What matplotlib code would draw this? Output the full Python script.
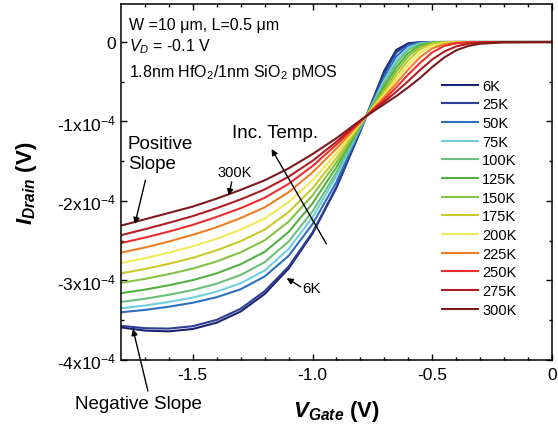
import matplotlib
matplotlib.use('Agg')
import matplotlib.pyplot as plt

plt.rcParams['font.family'] = ['Liberation Sans', 'DejaVu Sans']
plt.rcParams['mathtext.fontset'] = 'custom'
plt.rcParams['mathtext.rm'] = 'Liberation Sans'
plt.rcParams['mathtext.it'] = 'Liberation Sans:italic'
plt.rcParams['mathtext.bf'] = 'Liberation Sans:bold'
plt.rcParams['mathtext.bfit'] = 'Liberation Sans:italic:bold'

# gate voltage (V) and drain current (units of 1e-4)
v_gate = [-1.8, -1.7, -1.6, -1.5, -1.4, -1.3, -1.2, -1.1, -1.0, -0.9, -0.8, -0.75,
          -0.7, -0.65, -0.6, -0.55, -0.5, -0.45, -0.4, -0.35, -0.3, -0.2, 0.0]

temps = ['6K', '25K', '50K', '75K', '100K', '125K', '150K', '175K', '200K',
         '225K', '250K', '275K', '300K']

i_6k = [-3.59, -3.63, -3.64, -3.61, -3.53, -3.39, -3.17, -2.85, -2.41, -1.83, -1.12, -0.74,
        -0.36, -0.10, -0.015, -0.003, 0, 0, 0, 0, 0, 0, 0]
i_25k = [-3.57, -3.60, -3.605, -3.575, -3.495, -3.355, -3.135, -2.825, -2.395, -1.825, -1.11,
         -0.75, -0.39, -0.13, -0.025, -0.005, 0, 0, 0, 0, 0, 0, 0]
i_50k = [-3.40, -3.37, -3.33, -3.28, -3.21, -3.11, -2.95, -2.69, -2.29, -1.76, -1.095, -0.765,
         -0.44, -0.18, -0.045, -0.01, -0.002, 0, 0, 0, 0, 0, 0]
i_75k = [-3.35, -3.315, -3.27, -3.215, -3.14, -3.035, -2.875, -2.605, -2.205, -1.685, -1.08,
         -0.78, -0.48, -0.23, -0.07, -0.015, -0.003, 0, 0, 0, 0, 0, 0]
i_100k = [-3.27, -3.23, -3.18, -3.12, -3.04, -2.93, -2.77, -2.51, -2.13, -1.64, -1.065, -0.795,
          -0.52, -0.27, -0.10, -0.025, -0.005, 0, 0, 0, 0, 0, 0]
i_125k = [-3.16, -3.115, -3.06, -2.995, -2.91, -2.795, -2.64, -2.39, -2.03, -1.575, -1.05,
          -0.81, -0.56, -0.32, -0.14, -0.04, -0.01, -0.002, 0, 0, 0, 0, 0]
i_150k = [-3.03, -2.98, -2.92, -2.85, -2.76, -2.645, -2.495, -2.26, -1.93, -1.515, -1.04,
          -0.82, -0.60, -0.37, -0.18, -0.06, -0.015, -0.003, 0, 0, 0, 0, 0]
i_175k = [-2.91, -2.855, -2.79, -2.715, -2.62, -2.505, -2.36, -2.14, -1.84, -1.46, -1.03,
          -0.83, -0.63, -0.42, -0.23, -0.09, -0.025, -0.006, 0, 0, 0, 0, 0]
i_200k = [-2.78, -2.72, -2.65, -2.57, -2.475, -2.36, -2.22, -2.015, -1.74, -1.40, -1.02,
          -0.84, -0.66, -0.47, -0.285, -0.135, -0.045, -0.012, -0.003, 0, 0, 0, 0]
i_225k = [-2.65, -2.585, -2.51, -2.425, -2.33, -2.215, -2.08, -1.89, -1.64, -1.34, -1.01,
          -0.85, -0.69, -0.52, -0.345, -0.19, -0.08, -0.025, -0.007, -0.002, 0, 0, 0]
i_250k = [-2.53, -2.46, -2.385, -2.30, -2.20, -2.09, -1.96, -1.785, -1.56, -1.29, -1.00,
          -0.86, -0.72, -0.57, -0.41, -0.26, -0.13, -0.05, -0.016, -0.005, -0.001, 0, 0]
i_275k = [-2.43, -2.355, -2.275, -2.19, -2.09, -1.98, -1.855, -1.695, -1.495, -1.255, -0.99,
          -0.87, -0.75, -0.625, -0.49, -0.35, -0.22, -0.12, -0.055, -0.022, -0.008, -0.001, 0]
i_300k = [-2.31, -2.23, -2.15, -2.07, -1.97, -1.86, -1.74, -1.59, -1.41, -1.21, -0.985,
          -0.88, -0.78, -0.68, -0.57, -0.45, -0.315, -0.195, -0.105, -0.05, -0.022, -0.004, 0]

currents = [i_6k, i_25k, i_50k, i_75k, i_100k, i_125k, i_150k, i_175k, i_200k,
            i_225k, i_250k, i_275k, i_300k]
colors = ['#1b2270', '#2b3f98', '#2f6fbf', '#6fcfdf', '#6cc07a', '#55b043', '#84c444',
          '#c9c92a', '#f1e85c', '#f17e22', '#ee2e2e', '#b01e24', '#7f1a1c']

y_ticks = [-4, -3, -2, -1, 0]
y_ticklabels = ['-4x10$^{-4}$', '-3x10$^{-4}$', '-2x10$^{-4}$', '-1x10$^{-4}$', '0']
x_ticks = [-1.5, -1.0, -0.5, 0.0]
x_ticklabels = ['-1.5', '-1.0', '-0.5', '0']

fig = plt.figure(figsize=(5.58, 4.27), dpi=100)
ax = fig.add_axes([0.2168, 0.1546, 0.7724, 0.8337])

for lab, cur, col in zip(temps, currents, colors):
    ax.plot(v_gate, cur, color=col, lw=1.5, label=lab)

ax.set_xlim(-1.8, 0)
ax.set_ylim(-4, 0.478)
ax.set_xticks(x_ticks)
ax.set_xticklabels(x_ticklabels)
ax.set_xticks([-1.7 + 0.1 * k for k in range(17)], minor=True)
ax.set_yticks(y_ticks)
ax.set_yticklabels(y_ticklabels)
ax.set_yticks([-3.5, -2.5, -1.5, -0.5], minor=True)
ax.tick_params(which='both', direction='in', top=True, right=True, labelsize=12.5, width=1)
ax.tick_params(which='major', length=4.5)
ax.tick_params(which='minor', length=2.5)
ax.tick_params(axis='x', pad=5)
for s in ax.spines.values():
    s.set_linewidth(1.1)

ax.set_xlabel(r'$\mathbfit{V}_{\mathbfit{Gate}}$ (V)', fontsize=16, fontweight='bold')
ax.set_ylabel(r'$\mathbfit{I}_{\mathbfit{Drain}}$ (V)', fontsize=16, fontweight='bold')
ax.xaxis.set_label_coords(0.5, -0.108)
ax.yaxis.set_label_coords(-0.19, 0.5)

leg = ax.legend(loc='upper left', bbox_to_anchor=(0.745, 0.79), frameon=False, fontsize=10.5,
                handlelength=2.45, handletextpad=0.3, labelspacing=0.32, borderaxespad=0,
                borderpad=0)

ax.text(0.019, 0.941, 'W =10 μm, L=0.5 μm', transform=ax.transAxes, fontsize=11.5, va='center')
ax.text(0.019, 0.882, r'$\mathit{V}_{\mathit{D}}$ = -0.1 V', transform=ax.transAxes,
        fontsize=11.5, va='center')
ax.text(0.019, 0.81, r'1.8nm HfO$_{2}$/1nm SiO$_{2}$ pMOS', transform=ax.transAxes,
        fontsize=11.5, va='center')

arrow = dict(arrowstyle='-|>', color='black', lw=1, mutation_scale=9, shrinkA=0, shrinkB=0)
ax.text(-1.771, -1.17, 'Positive\nSlope', fontsize=13.5, va='top', ha='left', linespacing=1.2)
ax.annotate('', xy=(-1.742, -2.29), xytext=(-1.698, -1.74), arrowprops=arrow)
ax.text(-1.325, -1.64, '300K', fontsize=10.5, ha='center', va='center')
ax.annotate('', xy=(-1.35, -1.93), xytext=(-1.3375, -1.76), arrowprops=arrow)
ax.text(-1.3375, -1.14, 'Inc. Temp.', fontsize=13.5, ha='left', va='center')
ax.annotate('', xy=(-1.171, -1.346), xytext=(-0.942, -2.54), arrowprops=arrow)
ax.text(-1.042, -3.10, '6K', fontsize=11, ha='left', va='center')
ax.annotate('', xy=(-1.108, -2.97), xytext=(-1.05, -3.08), arrowprops=arrow)
ax.text(-1.729, -4.55, 'Negative Slope', fontsize=13.5, ha='center', va='center', clip_on=False)
ax.annotate('', xy=(-1.75, -3.61), xytext=(-1.6875, -4.39), arrowprops=arrow,
            annotation_clip=False)

fig.savefig('out.png', dpi=100)
